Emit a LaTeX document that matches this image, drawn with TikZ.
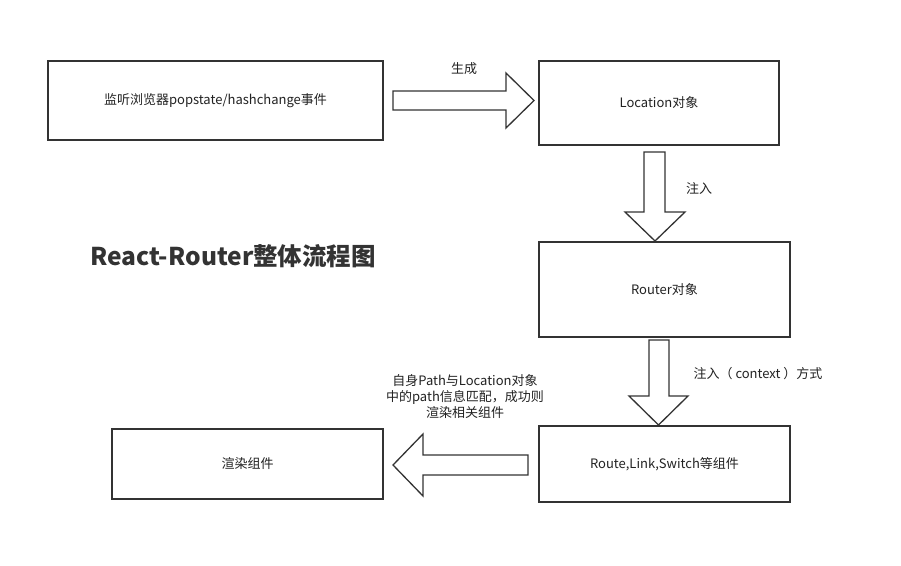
\documentclass[tikz,border=0pt]{standalone}
\usepackage{fontspec}
\setmainfont{Noto Sans CJK SC}
\definecolor{ink}{HTML}{333333}
\definecolor{txt}{HTML}{222222}
\begin{document}
\begin{tikzpicture}[x=1pt,y=-1pt,
  box/.style={draw=ink,line width=1.5pt,rectangle,inner sep=0pt,text=txt,font=\fontsize{13}{15}\selectfont},
  blockarrow/.style={draw=ink,line width=1.3pt,fill=white,line join=miter},
  lbl/.style={text=txt,font=\fontsize{13}{16}\selectfont,align=center,inner sep=0pt}]
\useasboundingbox[fill=white] (0,0) rectangle (901,565);
\node[box,minimum width=335pt,minimum height=79pt] (listen) at (215.5,100.5) {监听浏览器popstate/hashchange事件};
\node[box,minimum width=240pt,minimum height=84pt] (loc) at (659,103) {Location对象};
\node[box,minimum width=251pt,minimum height=95pt] (router) at (664.5,289.5) {Router对象};
\node[box,minimum width=251pt,minimum height=76pt] (route) at (664.5,464) {Route,Link,Switch等组件};
\node[box,minimum width=271pt,minimum height=70pt] (render) at (247.5,464) {渲染组件};
% block arrows
\draw[blockarrow] (393,91) -- (506,91) -- (506,73) -- (534,100.5) -- (506,128) -- (506,110) -- (393,110) -- cycle;
\draw[blockarrow] (644,152) -- (665,152) -- (665,212) -- (685,212) -- (655,241) -- (625,212) -- (644,212) -- cycle;
\draw[blockarrow] (649,340) -- (669,340) -- (669,396) -- (688,396) -- (658.5,425) -- (629,396) -- (649,396) -- cycle;
\draw[blockarrow] (528,455) -- (423,455) -- (423,434) -- (393,465) -- (423,496) -- (423,475) -- (528,475) -- cycle;
% labels
\node[lbl] (l1) at (464,69) {生成};
\node[lbl] (l2) at (699,188) {注入};
\node[lbl] (l3) at (758,374) {注入（ context ）方式};
\node[lbl] (l4) at (465,397) {自身Path与Location对象\\中的path信息匹配，成功则\\渲染相关组件};
\node[text=ink,font=\fontsize{24.5}{28}\selectfont\bfseries,inner sep=0pt] (title) at (233,256) {React-Router整体流程图};
\end{tikzpicture}
\end{document}
